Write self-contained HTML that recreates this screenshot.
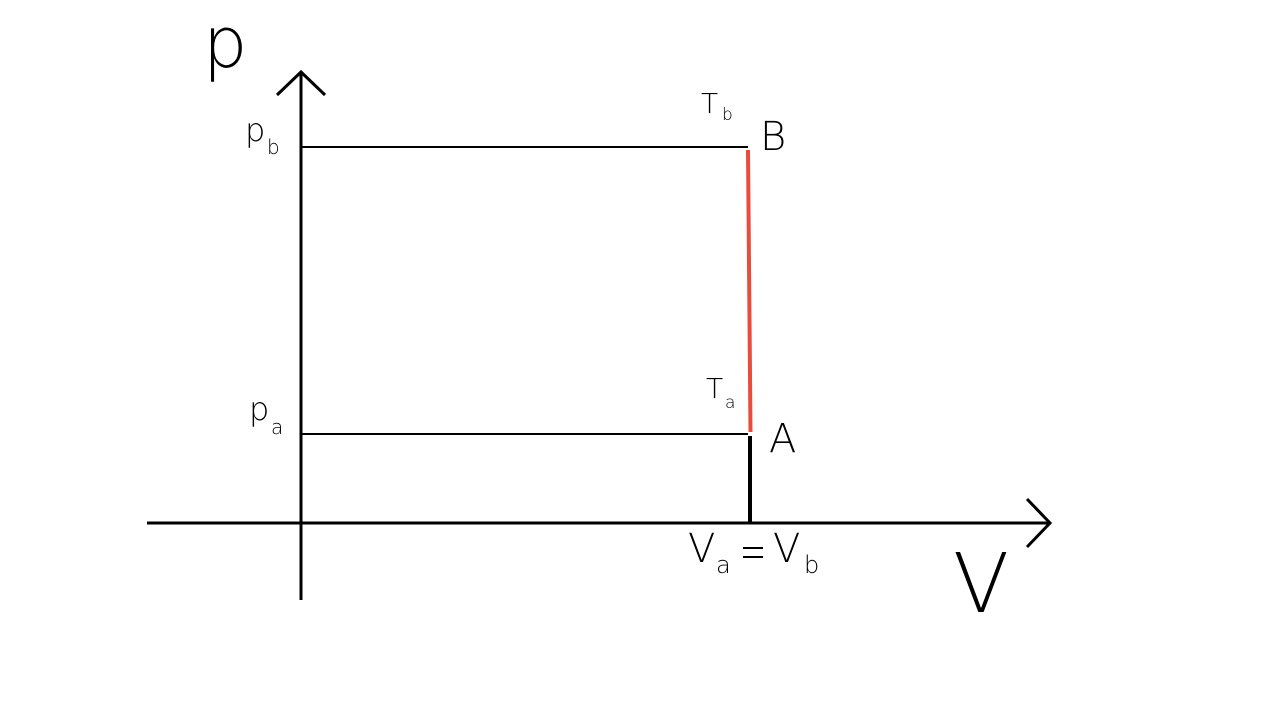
<!DOCTYPE html>
<html><head><style>
body{margin:0;background:#fff;}
svg text{font-family:"DejaVu Sans","Liberation Sans",sans-serif;font-weight:200;fill:#000;}
</style></head><body>
<svg width="1280" height="720" xmlns="http://www.w3.org/2000/svg">
<rect width="1280" height="720" fill="#fff"/>
<g stroke="#000" fill="none">
<line x1="301" y1="73" x2="301" y2="600" stroke-width="3"/>
<polyline points="277,95 301,72 325,95" stroke-width="3"/>
<line x1="147" y1="523" x2="1049" y2="523" stroke-width="3"/>
<polyline points="1027,499 1050,523 1027,547" stroke-width="3"/>
<line x1="301" y1="147" x2="748" y2="147" stroke-width="2"/>
<line x1="301" y1="434" x2="748" y2="434" stroke-width="2"/>
<line x1="750" y1="436" x2="750" y2="523" stroke-width="4"/>
</g>
<line x1="748" y1="150" x2="750.5" y2="432" stroke="#e74c3c" stroke-width="4"/>
<text x="203" y="67" font-size="70">p</text>
<text x="953" y="612" font-size="82">V</text>
<text x="245" y="141" font-size="32">p</text>
<text x="267" y="154" font-size="20">b</text>
<text x="249" y="420" font-size="32">p</text>
<text x="271" y="434" font-size="20">a</text>
<text x="701" y="113" font-size="28">T</text>
<text x="722" y="120" font-size="17">b</text>
<text x="706" y="398" font-size="28">T</text>
<text x="725" y="408" font-size="17">a</text>
<text x="760" y="150" font-size="40">B</text>
<text x="769" y="452" font-size="40">A</text>
<text x="688" y="562" font-size="40">V</text>
<text x="716" y="573" font-size="24">a</text>
<g stroke="#000" stroke-width="2"><line x1="743" y1="548" x2="763" y2="548"/><line x1="743" y1="557" x2="763" y2="557"/></g>
<text x="773" y="562" font-size="40">V</text>
<text x="804" y="573" font-size="24">b</text>
</svg>
</body></html>
